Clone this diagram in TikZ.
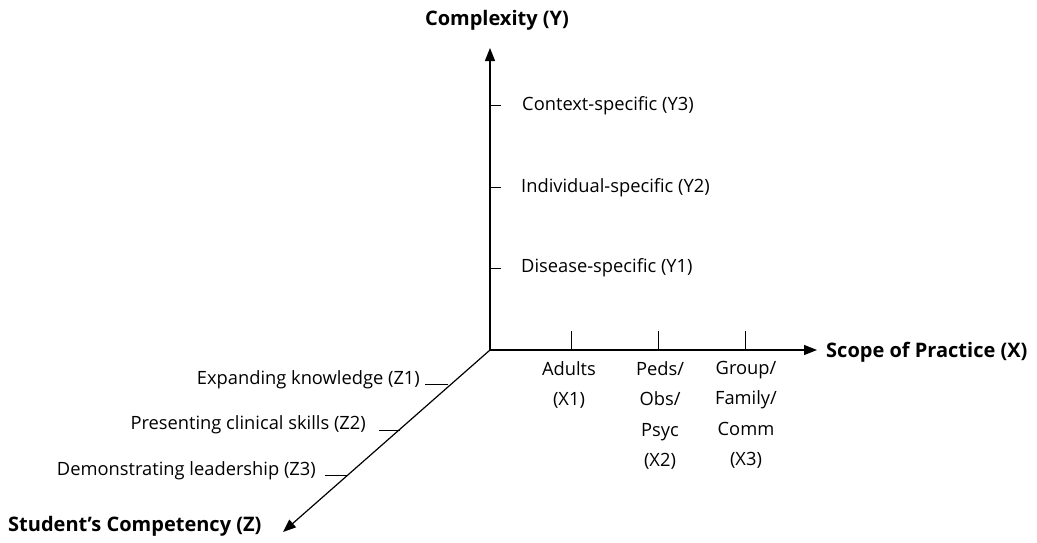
\documentclass[tikz,border=0pt]{standalone}
\usepackage{fontspec}
\setmainfont{Open Sans}
\usetikzlibrary{arrows.meta,positioning}
\begin{document}
\begin{tikzpicture}[x=1pt,y=-1pt,
        axis/.style = {line width=1.2pt,-{Triangle[length=13pt,width=10pt]}},
        tick/.style = {line width=1pt},
        lbl/.style = {font=\fontsize{18.3}{30.5}\selectfont,inner sep=0pt},
        ttl/.style = {font=\fontsize{20}{24}\selectfont\bfseries,inner sep=0pt}]
    \useasboundingbox (0,0) rectangle (1037,542);

    % axes
    \coordinate (O) at (490,350);
    \coordinate (Ytip) at (490,48);
    \coordinate (Xtip) at (817,350);
    \coordinate (Ztip) at (283,532);
    \draw[axis] (O) -- (Ytip);
    \draw[axis] (O) -- (Xtip);
    \draw[axis] (O) -- (Ztip);

    \node[ttl] (ytitle) at (497,20) {Complexity (Y)};
    \node[ttl,anchor=west] (xtitle) at (826,352) {Scope of Practice (X)};
    \node[ttl,anchor=west] (ztitle) at (8,526) {Student's Competency (Z)};

    % Y ticks
    \coordinate (y1) at (490,268);
    \coordinate (y2) at (490,187);
    \coordinate (y3) at (490,105);
    \draw[tick] (y1) -- ++(11,0);
    \draw[tick] (y2) -- ++(11,0);
    \draw[tick] (y3) -- ++(11,0);
    \node[lbl,anchor=west] (ly1) at (521,268) {Disease-specific (Y1)};
    \node[lbl,anchor=west] (ly2) at (521,188) {Individual-specific (Y2)};
    \node[lbl,anchor=west] (ly3) at (522,106) {Context-specific (Y3)};

    % X ticks
    \coordinate (x1) at (571,350);
    \coordinate (x2) at (658,350);
    \coordinate (x3) at (745,350);
    \draw[tick] (x1) -- ++(0,-19);
    \draw[tick] (x2) -- ++(0,-19);
    \draw[tick] (x3) -- ++(0,-19);
    \node[lbl,align=center,anchor=north] (lx1) at (569,361) {Adults\\(X1)};
    \node[lbl,align=center,anchor=north] (lx2) at (660,361) {Peds/\\Obs/\\Psyc\\(X2)};
    \node[lbl,align=center,anchor=north] (lx3) at (746,361) {Group/\\Family/\\Comm\\(X3)};

    % Z ticks
    \coordinate (z1) at (448,384);
    \coordinate (z2) at (400,430);
    \coordinate (z3) at (348,475);
    \draw[tick] (z1) -- ++(-23,0);
    \draw[tick] (z2) -- ++(-21,0);
    \draw[tick] (z3) -- ++(-23,0);
    \node[lbl,anchor=east] (lz1) at (420,380) {Expanding knowledge (Z1)};
    \node[lbl,anchor=east] (lz2) at (366,425) {Presenting clinical skills (Z2)};
    \node[lbl,anchor=east] (lz3) at (316,471) {Demonstrating leadership (Z3)};
\end{tikzpicture}
\end{document}
